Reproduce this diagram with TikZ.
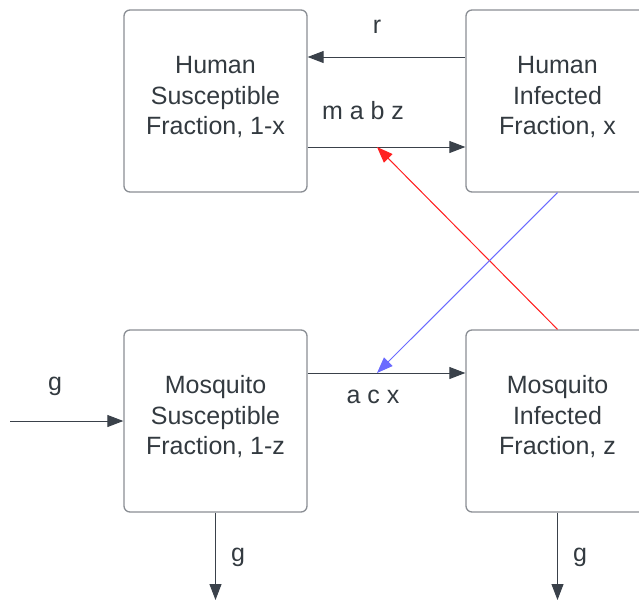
\documentclass[tikz,border=0pt]{standalone}
\usepackage{fontspec}
\setmainfont{Liberation Sans}
\usetikzlibrary{arrows.meta}
\definecolor{linec}{HTML}{3A414A}
\definecolor{boxc}{HTML}{8A8E94}
\definecolor{textc}{HTML}{333A40}
\definecolor{redc}{HTML}{FF2020}
\definecolor{bluec}{HTML}{6B6BFF}
\tikzset{
  box/.style={draw=boxc, line width=1.3pt, rounded corners=6pt, minimum width=183pt, minimum height=182pt, inner sep=0pt},
  boxtext/.style={align=center, text=textc, font=\fontsize{25}{30.5}\selectfont, inner sep=0pt, yshift=4pt},
  lbl/.style={text=textc, font=\fontsize{25}{30}\selectfont, inner sep=0pt},
  arr/.style={draw=linec, line width=1pt, -{Triangle[length=16pt,width=12pt]}},
}
\begin{document}
\begin{tikzpicture}[x=1pt,y=-1pt]
\useasboundingbox (0,0) rectangle (639,600);
\clip (0,0) rectangle (639,600);
\node[box, label={[boxtext]center:{Human\\Susceptible\\Fraction, 1-x}}] (hs) at (215.5,101) {};
\node[box, label={[boxtext]center:{Human\\Infected\\Fraction, x}}] (hi) at (557.5,101) {};
\node[box, label={[boxtext]center:{Mosquito\\Susceptible\\Fraction, 1-z}}] (ms) at (215.5,421) {};
\node[box, label={[boxtext]center:{Mosquito\\Infected\\Fraction, z}}] (mi) at (557.5,421) {};
\coordinate (ry) at (0,57);
\coordinate (my) at (0,147);
\coordinate (ay) at (0,373);
\coordinate (redend) at (377,147);
\coordinate (blueend) at (377,373);
\coordinate (gin) at (10,421);
\coordinate (gl) at (215.5,600);
\coordinate (gr) at (557.5,600);
\draw[arr] (hi.west |- ry) -- (hs.east |- ry);
\draw[arr] (hs.east |- my) -- (hi.west |- my);
\draw[arr] (ms.east |- ay) -- (mi.west |- ay);
\draw[arr, draw=redc, fill=redc] (mi.north) -- (redend);
\draw[arr, draw=bluec, fill=bluec] (hi.south) -- (blueend);
\draw[arr] (gin) -- (ms.west);
\draw[arr] (ms.south) -- (gl);
\draw[arr] (mi.south) -- (gr);
\node[lbl] (lr) at (377,27) {r};
\node[lbl] (lm) at (363,111) {m a b z};
\node[lbl] (la) at (373,397) {a c x};
\node[lbl] (lg1) at (55,386) {g};
\node[lbl] (lg2) at (238,557) {g};
\node[lbl] (lg3) at (580,557) {g};
\end{tikzpicture}
\end{document}
